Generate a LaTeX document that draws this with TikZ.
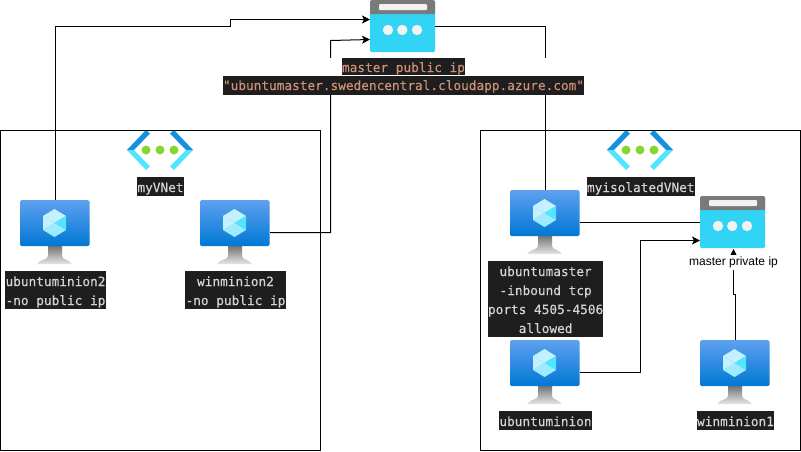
\documentclass[tikz,border=0pt]{standalone}
\usepackage{fontspec}
\setmainfont{Liberation Sans}
\newfontfamily\vscfont[FakeBold=0.25]{DejaVu Sans Mono}
\usetikzlibrary{arrows.meta}
\definecolor{vsbg}{HTML}{1E1E1E}
\definecolor{vstext}{HTML}{D4D4D4}
\definecolor{vsstr}{HTML}{CE9178}
\definecolor{vmtop}{HTML}{5EA0EF}
\definecolor{vmbot}{HTML}{0078D4}
\definecolor{appcyan}{HTML}{32D4F5}
\definecolor{appgrey}{HTML}{7A7A7A}
\definecolor{apppale}{HTML}{F2F2F2}
\definecolor{netdark}{HTML}{1490DF}
\definecolor{netlight}{HTML}{50E6FF}
\definecolor{netgreen}{HTML}{86D633}
\definecolor{cubea}{HTML}{C3F1FF}
\definecolor{cubeb}{HTML}{9CEBFF}
\definecolor{cubec}{HTML}{50E6FF}
\newcommand{\lnst}{\rule[-4pt]{0pt}{19pt}}
\newcommand{\vmicon}[3]{%
  \begin{scope}[shift={(#2,#3)}]
    \shade[top color=black!54, bottom color=black!10]
      (28,46) -- (28,56) .. controls (28,60) and (20,59) .. (17,64) -- (52,64)
      .. controls (49,59) and (42,60) .. (42,56) -- (42,46) -- cycle;
    \shade[rounded corners=1.5pt, top color=vmtop, bottom color=vmbot] (0,0) rectangle (69.5,46);
    \fill[cubea] (34.5,9) -- (46,16) -- (34.5,23) -- (23,16) -- cycle;
    \fill[cubec] (46,16) -- (46,30) -- (34.5,23) -- cycle;
    \fill[cubeb] (34.5,23) -- (46,30) -- (34.5,37) -- (23,30) -- cycle;
    \fill[cubea] (23,16) -- (34.5,23) -- (23,30) -- cycle;
    \node[iconbox, minimum width=70pt, minimum height=65pt] (#1) at (35,32.5) {};
  \end{scope}}
\newcommand{\appicon}[3]{%
  \begin{scope}[shift={(#2,#3)}]
    \fill[appcyan, rounded corners=1.5pt] (0,0) rectangle (65,52);
    \fill[appgrey, rounded corners=1.5pt] (0,0) -- (0,14) -- (65,14) -- (65,0) -- cycle;
    \fill[appgrey] (0,6) rectangle (65,14);
    \fill[apppale, rounded corners=1pt] (9,4) rectangle (57,10);
    \fill[apppale] (18,30) circle (5.2) (32.3,30) circle (5.2) (47,30) circle (5.2);
    \node[iconbox, minimum width=65pt, minimum height=53pt] (#1) at (32.5,26.5) {};
  \end{scope}}
\newcommand{\neticon}[3]{%
  \begin{scope}[shift={(#2,#3)}]
    \fill[netdark] (0,20) -- (19,0) -- (23,3.5) -- (7,20) -- cycle;
    \fill[netdark] (66,20) -- (47,0) -- (43,3.5) -- (59,20) -- cycle;
    \fill[netlight] (0,20) -- (19,40) -- (23,36.5) -- (7,20) -- cycle;
    \fill[netlight] (66,20) -- (47,40) -- (43,36.5) -- (59,20) -- cycle;
    \fill[netgreen] (19,20) circle (4.5) (33,20) circle (4.5) (47,20) circle (4.5);
    \node[iconbox, minimum width=66pt, minimum height=40pt] (#1) at (33,20) {};
  \end{scope}}
\tikzset{
  x=1pt, y=-1pt,
  iconbox/.style={inner sep=0pt, outer sep=0pt, draw=none},
  netbox/.style={draw=black, line width=1pt, fill=none, outer sep=0pt},
  wire/.style={draw=black, line width=1pt},
  arrowwire/.style={wire, -{Stealth[length=8pt,width=8pt,inset=2pt]}},
  codelabel/.style={anchor=north west, fill=vsbg, text=vstext, inner sep=0pt, outer sep=0pt,
    align=center, font=\vscfont\fontsize{12.76}{19}\selectfont},
  strlabel/.style={codelabel, text=vsstr},
  plainlabel/.style={fill=white, inner sep=0pt, outer sep=0pt, font=\fontsize{12}{14}\selectfont},
}
\begin{document}
\begin{tikzpicture}
\useasboundingbox (0,0) rectangle (801,451);
\fill[white] (0,0) rectangle (801,451);

\neticon{vnetA}{127}{130}
\neticon{vnetB}{607}{130}
\node[netbox, anchor=north west, inner sep=0pt, minimum width=320pt, minimum height=320pt] (boxA) at (0.5,130.5) {};
\node[netbox, anchor=north west, inner sep=0pt, minimum width=320pt, minimum height=320pt] (boxB) at (480.5,130.5) {};

\appicon{pubip}{370}{0}
\appicon{privip}{700}{196}
\vmicon{vmuminion2}{20}{200}
\vmicon{vmwminion2}{200}{200}
\vmicon{vmmaster}{510}{190}
\vmicon{vmuminion}{510}{340}
\vmicon{vmwminion}{700}{340}

\coordinate (pubinA) at (370,19.5);
\coordinate (pubinB) at (370,39.5);
\coordinate (privin) at (700,240.5);

\draw[arrowwire] (vmuminion2.north) -- (55,26.5) -- (230.5,26.5) -- (230.5,19.5) -- (pubinA);
\draw[arrowwire] (vmwminion2.east) -- (330.5,232.5) -- (330.5,40.5) -- (pubinB);
\draw[wire] (vmmaster.north) -- (545,26.5) -- (pubip.east);
\draw[wire] (vmmaster.east) -- (privip.west |- vmmaster.east);
\draw[arrowwire] (vmuminion.east) -- (640,372.5) -- (640,240.5) -- (privin);
\draw[arrowwire] (vmwminion.north) -- (735,294.5) -- (733.5,294.5) -- (733.5,249);

\node[plainlabel, minimum width=90pt, minimum height=15pt] (privlabel) at (733.5,262.5) {master private ip};

\fill[white] (223,58) rectangle (584,95);
\node[strlabel, minimum width=123pt] (publabel) at (342,58) {\rule[-3pt]{0pt}{17pt}master public ip};
\node[strlabel, minimum width=361pt] (dnslabel) at (223,76) {\rule[-5pt]{0pt}{19pt}"ubuntumaster.swedencentral.cloudapp.azure.com"};

\node[codelabel, minimum width=47pt] (vnetAlabel) at (137,177) {\lnst myVNet};
\node[codelabel, minimum width=107pt] (vnetBlabel) at (587,177) {\lnst myisolatedVNet};
\node[codelabel, minimum width=101pt] (uminion2label) at (5,271) {\lnst ubuntuminion2\\\lnst -no public ip};
\node[codelabel, minimum width=101pt] (wminion2label) at (185,271) {\lnst winminion2\\\lnst -no public ip};
\node[codelabel, minimum width=115pt] (masterlabel) at (488,261) {\lnst ubuntumaster\\\lnst -inbound tcp\\\lnst ports 4505-4506\\\lnst allowed};
\node[codelabel, minimum width=93pt] (uminionlabel) at (499,411) {\lnst ubuntuminion};
\node[codelabel, minimum width=77pt] (wminionlabel) at (697,411) {\lnst winminion1};
\end{tikzpicture}
\end{document}
